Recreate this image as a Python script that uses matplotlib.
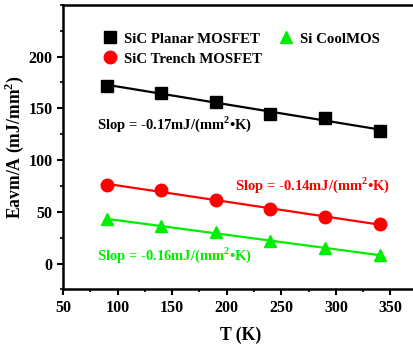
import numpy as np
import matplotlib
matplotlib.use('Agg')
import matplotlib.pyplot as plt
from matplotlib.ticker import MultipleLocator

plt.rcParams['font.family'] = ['Liberation Serif', 'DejaVu Serif']
plt.rcParams['font.weight'] = 'bold'
plt.rcParams['mathtext.fontset'] = 'custom'
plt.rcParams['mathtext.rm'] = 'Liberation Serif:bold'

temps = [90, 140, 190, 240, 290, 340]
planar = [172, 165, 156, 145, 141, 128]
trench = [76, 71, 61, 53, 45, 38]
coolmos = [43, 36, 30, 22, 15, 8]

fig = plt.figure(figsize=(4.14, 3.47), dpi=100)
ax = fig.add_axes([0.152, 0.166, 0.857, 0.820])

series = [
    (planar, 'k', 's', 'SiC Planar MOSFET'),
    (trench, '#ff0000', 'o', 'SiC Trench MOSFET'),
    (coolmos, '#00ee00', '^', 'Si CoolMOS'),
]
for vals, c, m, lab in series:
    p = np.polyfit(temps, vals, 1)
    xs = np.array([temps[0], temps[-1]])
    ax.plot(xs, np.polyval(p, xs), color=c, lw=1.6, zorder=2)
    ax.plot(temps, vals, ls='none', marker=m, color=c, ms=9, label=lab, zorder=3)

ax.text(81, 135, 'Slop = -0.17mJ/(mm$^2$\u2022K)', color='k', fontsize=10.5,
        fontweight='bold', va='center')
ax.text(208, 76, 'Slop = -0.14mJ/(mm$^2$\u2022K)', color='#ff0000', fontsize=10.5,
        fontweight='bold', va='center')
ax.text(81, 8, 'Slop = -0.16mJ/(mm$^2$\u2022K)', color='#00ee00', fontsize=10.5,
        fontweight='bold', va='center')

ax.legend(loc='upper left', bbox_to_anchor=(0.09, 0.925), ncol=2, frameon=False,
          fontsize=10.7, handletextpad=0.35, columnspacing=1.0, labelspacing=0.45,
          handlelength=1.2, borderaxespad=0)

ax.set_xlim(50, 375)
ax.set_ylim(-25, 250)
ax.set_xticks([50, 100, 150, 200, 250, 300, 350])
ax.set_yticks([0, 50, 100, 150, 200])
ax.xaxis.set_minor_locator(MultipleLocator(25))
ax.yaxis.set_minor_locator(MultipleLocator(25))
ax.tick_params(which='major', direction='out', length=4, width=1.5, labelsize=11.5)
ax.tick_params(which='minor', direction='out', length=2.5, width=1.2)
for s in ax.spines.values():
    s.set_linewidth(1.8)

ax.set_xlabel('T (K)', fontsize=12.7, fontweight='bold', labelpad=8)
ax.set_ylabel('Eavm/A (mJ/mm$^2$)', fontsize=12.7, fontweight='bold', labelpad=2)

fig.savefig('out.png', dpi=100)
